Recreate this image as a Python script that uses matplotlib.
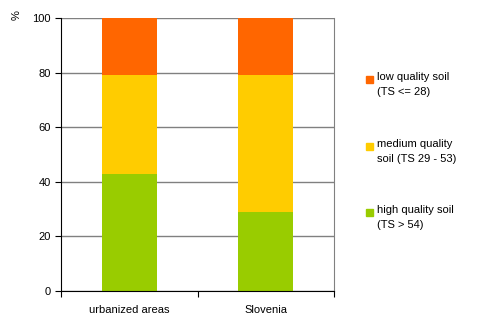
import matplotlib.pyplot as plt
from matplotlib.patches import Rectangle

plt.rcParams['font.family'] = ['Liberation Sans', 'DejaVu Sans']

# share of soil quality classes (%)
categories = ['urbanized areas', 'Slovenia']
high = [43.0, 29.0]
medium = [36.0, 50.2]
low = [21.0, 20.8]

labels = ['low quality soil\n(TS <= 28)',
          'medium quality\nsoil (TS 29 - 53)',
          'high quality soil\n(TS > 54)']
colors = {'low': '#FF6600', 'medium': '#FFCC00', 'high': '#99CC00'}

W, H = 478, 329
fig = plt.figure(figsize=(W / 100, H / 100), dpi=100)
ax = fig.add_axes([61 / W, 1 - 291 / H, 273 / W, 273 / H])

x = [0.5, 1.5]
bottom_med = high
bottom_low = [h + m for h, m in zip(high, medium)]
ax.bar(x, high, width=0.4, color=colors['high'], zorder=2)
ax.bar(x, medium, width=0.4, bottom=bottom_med, color=colors['medium'], zorder=2)
ax.bar(x, low, width=0.4, bottom=bottom_low, color=colors['low'], zorder=2)

ax.set_xlim(0, 2)
ax.set_ylim(0, 100)
ax.set_yticks(range(0, 101, 20))
ax.yaxis.grid(True, color='#808080', linewidth=1, zorder=0)
ax.set_xticks([0, 1, 2])
ax.set_xticklabels([])
ax.set_xticks(x, minor=True)
ax.set_xticklabels(categories, minor=True, fontsize=8)
ax.tick_params(axis='x', which='minor', length=0, pad=10)
ax.tick_params(axis='x', which='major', length=4, direction='out')
ax.tick_params(axis='y', length=4, labelsize=8, direction='out')
ax.spines['top'].set_visible(False)
ax.spines['right'].set_color('#808080')
ax.spines['left'].set_color('black')
ax.spines['bottom'].set_color('black')

fig.text(17 / W, 1 - 15 / H, '%', rotation=90, fontsize=8, ha='center', va='center')

# legend drawn by hand
legend_y = [79, 146, 212]
legend_keys = ['low', 'medium', 'high']
for key, lab, yy in zip(legend_keys, labels, legend_y):
    fig.add_artist(Rectangle((366 / W, 1 - (yy + 4) / H), 7 / W, 7 / H,
                             color=colors[key], transform=fig.transFigure))
    fig.text(377 / W, 1 - (yy - 7) / H, lab, fontsize=8, va='top', ha='left',
             linespacing=1.6)

fig.savefig('out.png', dpi=100)
